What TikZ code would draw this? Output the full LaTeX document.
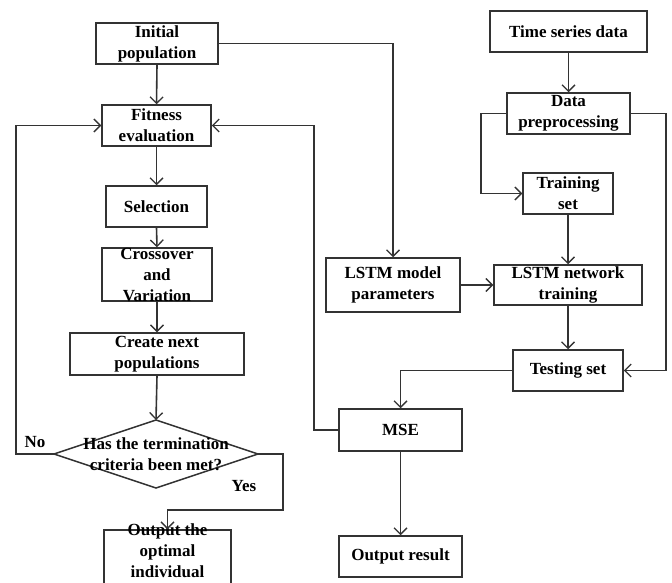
\documentclass[tikz,border=0pt]{standalone}
\usepackage{fontspec}
\setmainfont{Liberation Serif}
\usetikzlibrary{arrows.meta}
\begin{document}
\begin{tikzpicture}[x=1pt,y=-1pt,
  every node/.style={font=\fontsize{17}{21}\selectfont\bfseries, align=center, inner sep=0pt},
  box/.style={draw=black!80, line width=1.5pt, rectangle},
  arr/.style={draw=black!80, line width=1.6pt, -{Straight Barb[length=6.5pt,width=13pt,line width=1.3pt]}},
  ln/.style={draw=black!80, line width=1.5pt}]
\useasboundingbox (0,0) rectangle (672,583);
\clip (0,0) rectangle (672,583);
% left column
\node[box, minimum width=122pt, minimum height=41pt] (init) at (157,43.5) {Initial\\population};
\node[box, minimum width=109pt, minimum height=41pt] (fit) at (156.5,125.5) {Fitness\\evaluation};
\node[box, minimum width=101pt, minimum height=41pt] (sel) at (156.5,206.5) {Selection};
\node[box, minimum width=110pt, minimum height=53pt] (cross) at (157,274.5) {};
\node (crosst) at (157,274.5) {Crossover\\and\\Variation};
\node[box, minimum width=174pt, minimum height=42pt] (next) at (157,354) {Create next\\populations};
% decision diamond
\coordinate (dW) at (54,454);
\coordinate (dE) at (258,454);
\coordinate (dN) at (156,420);
\coordinate (dS) at (156,488);
\draw[ln] (dW) -- (dN) -- (dE) -- (dS) -- cycle;
\node (dec) at (156,454) {Has the termination\\criteria been met?};
\node[box, minimum width=127pt, minimum height=62pt] (out) at (167.5,561) {};
\node (outt) at (167.5,551) {Output the\\optimal\\individual};
\node (no) at (35,442) {No};
\node (yes) at (244,486) {Yes};
% right part
\node[box, minimum width=134pt, minimum height=54pt] (lstmp) at (393,285) {LSTM model\\parameters};
\node[box, minimum width=148pt, minimum height=40pt] (lstmn) at (568,285) {LSTM network\\training};
\node[box, minimum width=157pt, minimum height=41pt] (ts) at (568.5,31.5) {Time series data};
\node[box, minimum width=123pt, minimum height=41pt] (dp) at (568.5,113.5) {Data\\preprocessing};
\node[box, minimum width=90pt, minimum height=41pt] (tr) at (568,193.5) {Training\\set};
\node[box, minimum width=110pt, minimum height=41pt] (test) at (568,370.5) {Testing set};
\node[box, minimum width=123pt, minimum height=42pt] (mse) at (400.5,430) {MSE};
\node[box, minimum width=123pt, minimum height=41pt] (res) at (400.5,556.5) {Output result};
% connectors
\draw[arr] (init.south) -- (fit.north);
\draw[arr] (fit.south) -- (sel.north);
\draw[arr] (sel.south) -- (cross.north);
\draw[arr] (cross.south) -- (next.north);
\draw[arr] (next.south) -- (dN);
\draw[arr] (dW) -- (16,454) |- (fit.west);
\draw[arr] (dE) -- (283,454) -- (283,510) -| (out.north);
\draw[arr] (init.east) -| (lstmp.north);
\draw[arr] (lstmp.east) -- (lstmn.west);
\draw[arr] (ts.south) -- (dp.north);
\draw[arr] (dp.west) -- (481,113.5) |- (tr.west);
\draw[arr] (dp.east) -- (666,113.5) |- (test.east);
\draw[arr] (tr.south) -- (lstmn.north);
\draw[arr] (lstmn.south) -- (test.north);
\draw[arr] (test.west) -| (mse.north);
\draw[arr] (mse.west) -- (314,430) |- (fit.east);
\draw[arr] (mse.south) -- (res.north);
\end{tikzpicture}
\end{document}
